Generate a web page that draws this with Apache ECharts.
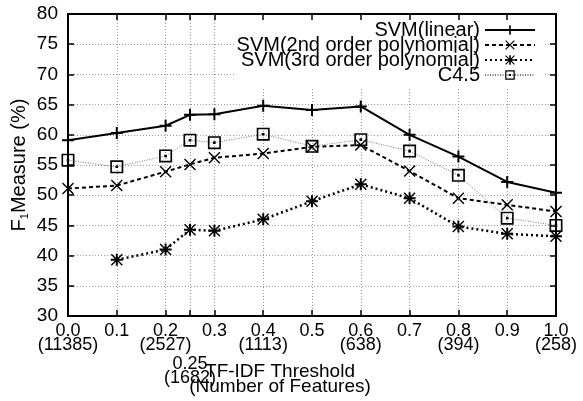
<!DOCTYPE html>
<html>
<head>
<meta charset="utf-8">
<script src="https://cdn.jsdelivr.net/npm/echarts@6/dist/echarts.min.js"></script>
<style>
html,body{margin:0;padding:0;background:#fff;}
#chart{width:583px;height:401px;}
</style>
</head>
<body>
<div id="chart"></div>
<script>
// ---- data ----
var thresholds = [0.0, 0.1, 0.2, 0.25, 0.3, 0.4, 0.5, 0.6, 0.7, 0.8, 0.9, 1.0];
var featureCounts = ["11385", "", "2527", "1682", "", "1113", "", "638", "", "394", "", "258"];
var tickLabels = ["0.0", "0.1", "0.2", "0.25", "0.3", "0.4", "0.5", "0.6", "0.7", "0.8", "0.9", "1.0"];
var seriesNames = ["SVM(linear)", "SVM(2nd order polynomial)", "SVM(3rd order polynomial)", "C4.5"];
var svmLinear = [59.1, 60.3, 61.5, 63.3, 63.4, 64.8, 64.1, 64.7, 60.0, 56.4, 52.2, 50.4];
var svm2nd    = [51.1, 51.6, 53.9, 55.1, 56.2, 56.9, 58.0, 58.3, 54.0, 49.5, 48.4, 47.3];
var svm3rd    = [null, 39.3, 41.0, 44.3, 44.1, 46.0, 49.0, 51.8, 49.5, 44.8, 43.6, 43.2];
var c45       = [55.8, 54.7, 56.5, 59.1, 58.7, 60.1, 58.1, 59.2, 57.3, 53.3, 46.2, 45.0];

// ---- symbols ----
var SYM_PLUS = 'path://M-1,-6 H1 V-1 H6 V1 H1 V6 H-1 V1 H-6 V-1 H-1 Z';
var SYM_X = 'path://M-5,-6 L6,5 L5,6 L-6,-5 Z M5,-6 L6,-5 L-5,6 L-6,5 Z';
var SYM_STAR = 'path://M-5,-6 L6,5 L5,6 L-6,-5 Z M5,-6 L6,-5 L-5,6 L-6,5 Z M-1,-6 H1 V-1 H6 V1 H1 V6 H-1 V1 H-6 V-1 H-1 Z';
var SYM_BOX = 'path://M-6,-6 H6 V6 H-6 Z M-4.5,-4.5 V4.5 H4.5 V-4.5 Z M-1.2,-1.2 H1.2 V1.2 H-1.2 Z';

function pairs(vals) {
  var out = [];
  for (var i = 0; i < thresholds.length; i++) {
    if (vals[i] !== null) out.push([thresholds[i], vals[i]]);
  }
  return out;
}
function labelFor(v) {
  for (var i = 0; i < thresholds.length; i++) {
    if (Math.abs(thresholds[i] - v) < 1e-6) {
      if (Math.abs(v - 0.25) < 1e-6) {
        return '{sp| }\n{t|' + tickLabels[i] + '}\n{t|(' + featureCounts[i] + ')}';
      }
      var s = tickLabels[i];
      if (featureCounts[i]) s += '\n(' + featureCounts[i] + ')';
      return s;
    }
  }
  return '';
}

var FONT = 'Liberation Sans, Arial, Helvetica, sans-serif';
var chart = echarts.init(document.getElementById('chart'), null, {renderer: 'canvas'});
var gridSplit = {show: true, lineStyle: {color: '#999', width: 1, type: [1, 2]}};

chart.setOption({
  animation: false,
  backgroundColor: '#fff',
  grid: {left: 68, right: 27, top: 14, bottom: 85, containLabel: false, outerBoundsMode: 'none'},
  legend: {
    orient: 'vertical',
    align: 'right',
    right: 38,
    top: 14,
    z: 1,
    padding: [6, 9, 3, 2],
    backgroundColor: '#fff',
    itemWidth: 50,
    itemHeight: 12,
    itemGap: -5,
    textStyle: {fontFamily: FONT, fontSize: 20, color: '#000', lineHeight: 15},
    data: seriesNames
  },
  xAxis: [{
    type: 'value', min: 0, max: 1, position: 'bottom', z: 0,
    axisLine: {show: true, onZero: false, lineStyle: {color: '#000', width: 2}},
    axisTick: {show: true, inside: true, length: 6, customValues: thresholds, lineStyle: {color: '#000', width: 1.5}},
    axisLabel: {
      customValues: thresholds, formatter: labelFor, fontFamily: FONT, fontSize: 18, color: '#000',
      lineHeight: 14, margin: 8, hideOverlap: false,
      rich: {
        sp: {fontFamily: FONT, fontSize: 10, lineHeight: 33, color: '#000'},
        t: {fontFamily: FONT, fontSize: 18, lineHeight: 14, color: '#000'}
      }
    },
    splitLine: gridSplit,
    name: 'TF-IDF Threshold\n(Number of Features)',
    nameLocation: 'middle', nameGap: 48, nameMoveOverlap: false,
    nameTextStyle: {fontFamily: FONT, fontSize: 19, color: '#000', lineHeight: 15, padding: [0, 64, 0, 0]}
  }, {
    type: 'value', min: 0, max: 1, position: 'top', z: 3,
    axisLine: {show: true, onZero: false, lineStyle: {color: '#000', width: 2}},
    axisTick: {show: true, inside: true, length: 6, customValues: thresholds, lineStyle: {color: '#000', width: 1.5}},
    axisLabel: {show: false},
    splitLine: {show: false}
  }],
  yAxis: [{
    type: 'value', min: 30, max: 80, interval: 5, position: 'left', z: 0,
    axisLine: {show: true, onZero: false, lineStyle: {color: '#000', width: 2}},
    axisTick: {show: true, inside: true, length: 6, lineStyle: {color: '#000', width: 1.5}},
    axisLabel: {fontFamily: FONT, fontSize: 19, color: '#000', margin: 10},
    splitLine: gridSplit,
    name: '{m|F}{s|1}{m|Measure (%)}',
    nameLocation: 'middle', nameGap: 38, nameRotate: 90, nameMoveOverlap: false,
    nameTextStyle: {
      fontFamily: FONT, fontSize: 20, color: '#000',
      rich: {
        m: {fontFamily: FONT, fontSize: 20, color: '#000'},
        s: {fontFamily: FONT, fontSize: 11, color: '#000', padding: [11, 0, 0, 0]}
      }
    }
  }, {
    type: 'value', min: 30, max: 80, interval: 5, position: 'right', z: 3,
    axisLine: {show: true, onZero: false, lineStyle: {color: '#000', width: 2}},
    axisTick: {show: true, inside: true, length: 6, lineStyle: {color: '#000', width: 1.5}},
    axisLabel: {show: false},
    splitLine: {show: false}
  }],
  series: [{
    name: seriesNames[0], type: 'line', data: pairs(svmLinear), clip: false, z: 3,
    symbol: SYM_PLUS, symbolSize: 12,
    lineStyle: {color: '#000', width: 2, type: 'solid'},
    itemStyle: {color: '#000', borderWidth: 0}
  }, {
    name: seriesNames[1], type: 'line', data: pairs(svm2nd), clip: false, z: 3,
    symbol: SYM_X, symbolSize: 12,
    lineStyle: {color: '#000', width: 2, type: [4, 3]},
    itemStyle: {color: '#000', borderWidth: 0}
  }, {
    name: seriesNames[2], type: 'line', data: pairs(svm3rd), clip: false, z: 3,
    symbol: SYM_STAR, symbolSize: 12,
    lineStyle: {color: '#000', width: 2.5, type: [2, 3]},
    itemStyle: {color: '#000', borderWidth: 0}
  }, {
    name: seriesNames[3], type: 'line', data: pairs(c45), clip: false, z: 3,
    symbol: SYM_BOX, symbolSize: 13,
    lineStyle: {color: '#777', width: 1, type: [1, 1.5]},
    itemStyle: {color: '#000', borderWidth: 0}
  }]
});
</script>
</body>
</html>
